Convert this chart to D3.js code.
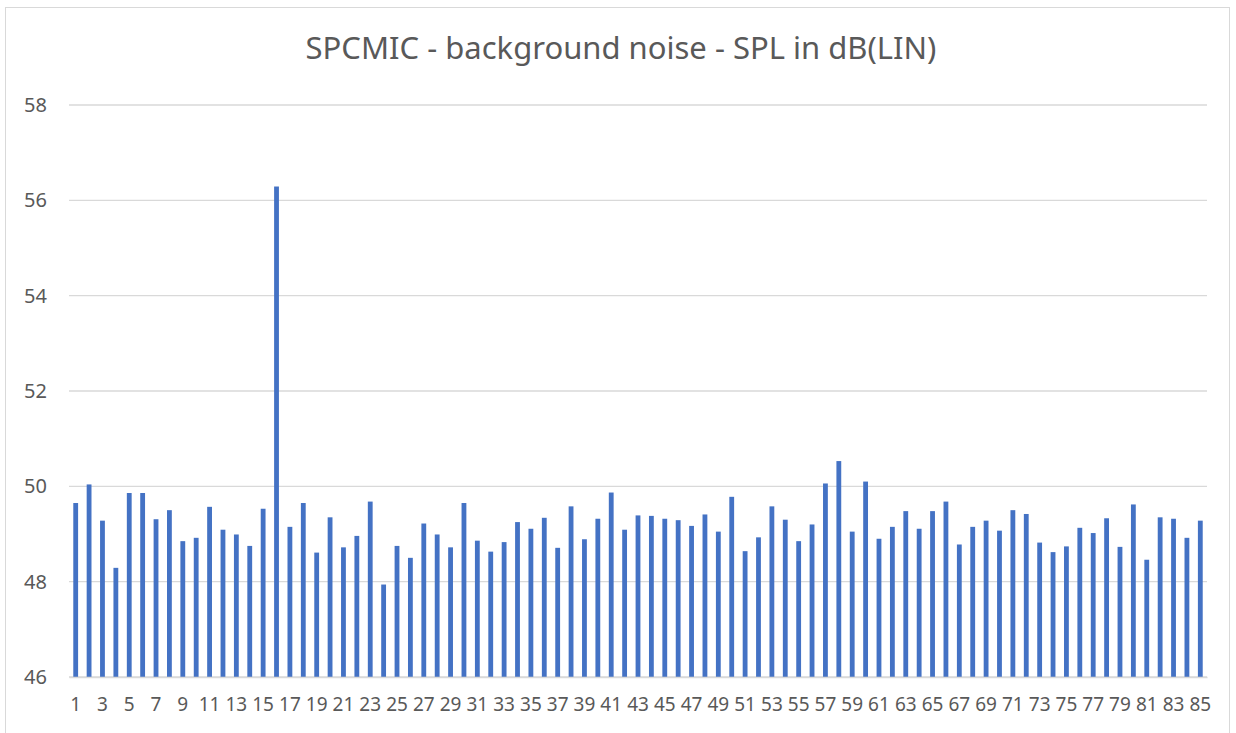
<html lang="en">
  <head>
    <title>spcmic noise</title>
    <script src="https://d3js.org/d3.v7.min.js"></script>
    <style>
      body { margin: 0; background: #fff; }
      #chart text { font-family: 'Noto Sans', 'Open Sans', sans-serif; fill: #595959; }
      #chart .grid line { stroke: #d9d9d9; stroke-width: 1.3; }
    </style>
  </head>
  <body>
    <svg id="chart" width="1236" height="733"></svg>
    <script>

      const title = 'SPCMIC - background noise - SPL in dB(LIN)'

      // measurement index 1..85
      const positions = d3.range(1, 86)

      const splValues = [
        49.65, 50.04, 49.28, 48.29, 49.86, 49.86, 49.31, 49.50, 48.85, 48.92,
        49.57, 49.09, 48.99, 48.75, 49.53, 56.29, 49.15, 49.65, 48.61, 49.35,
        48.72, 48.96, 49.68, 47.94, 48.75, 48.50, 49.22, 48.99, 48.72, 49.65,
        48.86, 48.63, 48.83, 49.25, 49.11, 49.34, 48.71, 49.58, 48.89, 49.32,
        49.87, 49.09, 49.39, 49.38, 49.32, 49.29, 49.17, 49.41, 49.05, 49.78,
        48.64, 48.93, 49.58, 49.30, 48.85, 49.20, 50.06, 50.53, 49.05, 50.10,
        48.90, 49.15, 49.48, 49.11, 49.48, 49.68, 48.78, 49.15, 49.28, 49.07,
        49.50, 49.42, 48.82, 48.62, 48.74, 49.13, 49.02, 49.33, 48.73, 49.62,
        48.46, 49.35, 49.32, 48.92, 49.28
      ]

      const yTicks = [46, 48, 50, 52, 54, 56, 58]

      const svg = d3.select('#chart')
      const plot = { left: 69, right: 1207, top: 105, bottom: 677 }

      // outer border of the chart
      svg.append('rect')
        .attr('x', 5.5).attr('y', 7.5)
        .attr('width', 1224).attr('height', 740)
        .attr('fill', 'none')
        .attr('stroke', '#d9d9d9')

      const x = d3.scaleBand()
        .domain(positions)
        .range([plot.left, plot.right])
        .paddingInner(0.64)
        .paddingOuter(0.32)

      const y = d3.scaleLinear()
        .domain([46, 58])
        .range([plot.bottom, plot.top])

      svg.append('text')
        .attr('x', 621)
        .attr('y', 59)
        .attr('text-anchor', 'middle')
        .style('font-size', '31px')
        .text(title)

      const grid = svg.append('g').attr('class', 'grid')
      grid.selectAll('line')
        .data(yTicks)
        .join('line')
        .attr('x1', plot.left)
        .attr('x2', plot.right)
        .attr('y1', d => y(d))
        .attr('y2', d => y(d))

      svg.append('g')
        .selectAll('rect')
        .data(splValues)
        .join('rect')
        .attr('x', (d, i) => x(positions[i]))
        .attr('y', d => y(d))
        .attr('width', x.bandwidth())
        .attr('height', d => y(46) - y(d))
        .attr('fill', '#4472c4')

      const yAxis = svg.append('g')
        .attr('transform', `translate(${plot.left - 22},0)`)
        .call(d3.axisLeft(y).tickValues(yTicks).tickSize(0).tickPadding(0))
      yAxis.select('.domain').remove()
      yAxis.selectAll('text').style('font-size', '20px')

      const xAxis = svg.append('g')
        .attr('transform', `translate(0,${plot.bottom})`)
        .call(d3.axisBottom(x).tickValues(positions.filter(d => d % 2 === 1)).tickSize(0).tickPadding(21))
      xAxis.select('.domain')
        .attr('stroke', '#d9d9d9')
        .attr('stroke-width', 1.3)
      xAxis.selectAll('text').style('font-size', '19px')
    </script>
  </body>
</html>
